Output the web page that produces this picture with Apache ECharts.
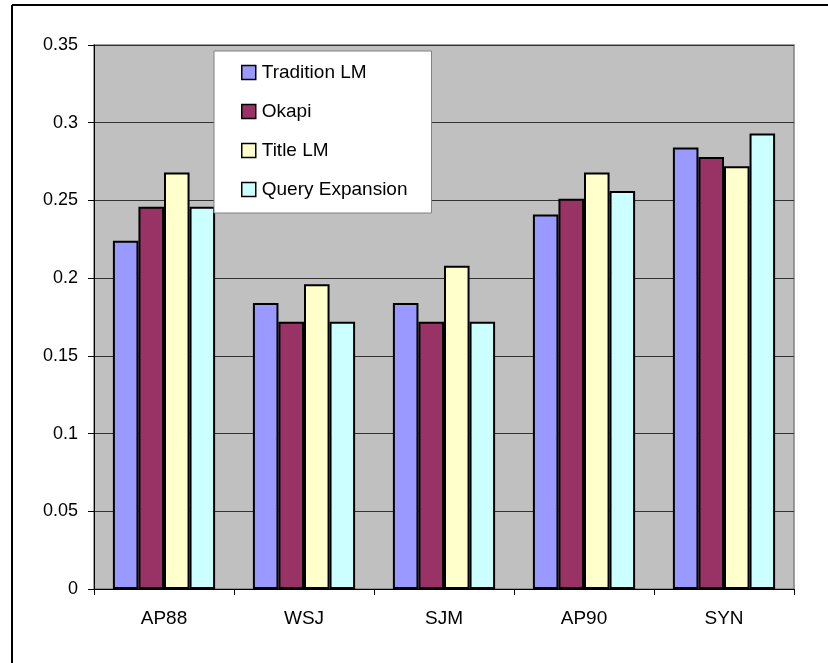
<!DOCTYPE html>
<html>
<head>
<meta charset="utf-8">
<script src="https://cdn.jsdelivr.net/npm/echarts@6/dist/echarts.min.js"></script>
<style>
  html, body { margin: 0; padding: 0; background: #fff; }
  #chart { width: 828px; height: 663px; }
</style>
</head>
<body>
<div id="chart"></div>
<script>
// Collections and per-method scores
const categories = ['AP88', 'WSJ', 'SJM', 'AP90', 'SYN'];
const traditionLM = [0.224, 0.184, 0.184, 0.241, 0.284];
const okapi = [0.246, 0.172, 0.172, 0.251, 0.278];
const titleLM = [0.268, 0.196, 0.208, 0.268, 0.272];
const queryExpansion = [0.246, 0.172, 0.172, 0.256, 0.293];
const yTicks = { min: 0, max: 0.35, interval: 0.05 };

const FONT = '"Liberation Sans", Arial, sans-serif';

const seriesDefs = [
  { name: 'Tradition LM', data: traditionLM, color: '#9999FF' },
  { name: 'Okapi', data: okapi, color: '#993366' },
  { name: 'Title LM', data: titleLM, color: '#FFFFCC' },
  { name: 'Query Expansion', data: queryExpansion, color: '#CCFFFF' }
];

const chart = echarts.init(document.getElementById('chart'), null, { renderer: 'canvas' });

chart.setOption({
  animation: false,
  backgroundColor: '#ffffff',
  graphic: [
    // outer frame (left and top edges visible)
    { type: 'line', shape: { x1: 12, y1: 5, x2: 12, y2: 663 }, style: { stroke: '#000', lineWidth: 2 } },
    { type: 'line', shape: { x1: 12, y1: 5, x2: 828, y2: 5 }, style: { stroke: '#000', lineWidth: 2 } }
  ],
  grid: {
    left: 94, right: 34, top: 45, bottom: 74,
    show: true,
    backgroundColor: '#C0C0C0',
    borderColor: '#808080',
    borderWidth: 1.5
  },
  legend: {
    orient: 'vertical',
    left: 214, top: 51,
    padding: [12, 24, 14, 27],
    itemGap: 20,
    itemWidth: 14, itemHeight: 14,
    icon: 'rect',
    backgroundColor: '#ffffff',
    borderColor: '#808080',
    borderWidth: 1,
    itemStyle: { borderColor: '#000', borderWidth: 1.5 },
    textStyle: { fontFamily: FONT, fontSize: 19, color: '#000', padding: [0, 0, 0, 1] }
  },
  xAxis: {
    type: 'category',
    data: categories,
    axisLine: { show: true, lineStyle: { color: '#000', width: 1 } },
    axisTick: { show: true, alignWithLabel: false, length: 6, lineStyle: { color: '#000' } },
    axisLabel: { fontFamily: FONT, fontSize: 19, color: '#000', margin: 20 },
    splitLine: { show: false }
  },
  yAxis: {
    type: 'value',
    min: yTicks.min, max: yTicks.max, interval: yTicks.interval,
    axisLine: { show: true, lineStyle: { color: '#000', width: 1 } },
    axisTick: { show: true, length: 6, lineStyle: { color: '#000' } },
    axisLabel: { fontFamily: FONT, fontSize: 18, color: '#000', margin: 16 },
    splitLine: { show: true, lineStyle: { color: '#333', width: 1 } }
  },
  series: seriesDefs.map(s => ({
    name: s.name,
    type: 'bar',
    data: s.data,
    barGap: '0%',
    barCategoryGap: '27%',
    itemStyle: { color: s.color, borderColor: '#000', borderWidth: 2 }
  }))
});
</script>
</body>
</html>
